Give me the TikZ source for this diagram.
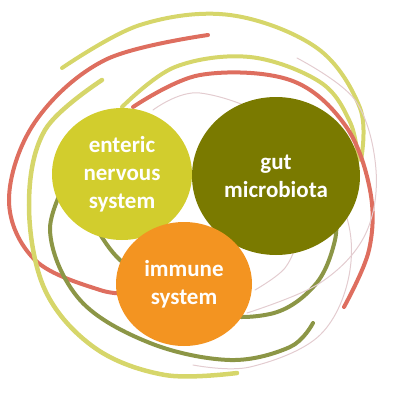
\documentclass[tikz,border=0pt]{standalone}
\usepackage{fontspec}
\setmainfont{Carlito}
\usetikzlibrary{shapes.geometric}
\definecolor{entericfill}{HTML}{D2CD2D}
\definecolor{gutfill}{HTML}{7A7A00}
\definecolor{immunefill}{HTML}{F39421}
\definecolor{palelime}{HTML}{D6D66A}
\definecolor{coral}{HTML}{DE6E5F}
\definecolor{moss}{HTML}{8C9646}
\definecolor{blush}{HTML}{E3CCD0}
\begin{document}
\begin{tikzpicture}[x=1pt,y=-1pt,
		every node/.style={ ellipse, inner sep=0pt, text=white, align=center, font=\fontsize{23}{28}\selectfont\bfseries },
		ring/.style={ line width=4pt, line cap=round },
		thinring/.style={ line width=1pt, blush, line cap=round } ]
			\useasboundingbox (0,0) rectangle (400,400);

			% outer rings
			\draw[ring, palelime] plot[smooth, tension=0.6] coordinates {(62,68) (140,25) (230,15) (317,48) (360,108) (361,160)};
			\draw[ring, coral] plot[smooth, tension=0.6] coordinates {(208,35) (105,60) (35,122) (9,200) (35,260) (100,290) (135,293)};
			\draw[ring, palelime, line width=4.5pt] plot[smooth, tension=0.6] coordinates {(102,80) (45,130) (29,205) (45,290) (95,348) (165,375) (237,373)};

			% inner rings
			\draw[ring, palelime] plot[smooth, tension=0.6] coordinates {(122,107) (175,67) (250,57) (320,82) (350,122) (358,160)};
			\draw[ring, coral] plot[smooth, tension=0.6] coordinates {(133,107) (200,75) (290,80) (345,125) (370,190) (369,250) (344,307)};
			\draw[ring, moss] plot[smooth, tension=0.6] coordinates {(75,165) (50,230) (80,300) (150,343) (230,360) (290,347) (313,323)};
			\draw[ring, moss] plot[smooth, tension=0.6] coordinates {(85,205) (120,260) (200,310) (270,314) (315,285) (335,240) (335,200)};

			% faint rings
			\draw[thinring] plot[smooth, tension=0.6] coordinates {(297,58) (355,100) (376,170) (365,235) (320,283) (247,313)};
			\draw[thinring] plot[smooth, tension=0.6] coordinates {(153,110) (200,93) (280,125) (340,200) (350,270) (320,335) (250,367) (193,365)};
			\draw[thinring] plot[smooth, tension=0.6] coordinates {(300,235) (285,268) (255,290)};

			% the three circles
			\node[fill=entericfill, minimum width=140pt, minimum height=132pt] (ens) at (122,174) {enteric\\nervous\\system};
			\node[fill=gutfill, minimum width=168pt, minimum height=158pt] (gut) at (276,176) {gut\\microbiota};
			\node[fill=immunefill, minimum width=136pt, minimum height=124pt] (imm) at (184,284) {immune\\system};
		\end{tikzpicture}
\end{document}
